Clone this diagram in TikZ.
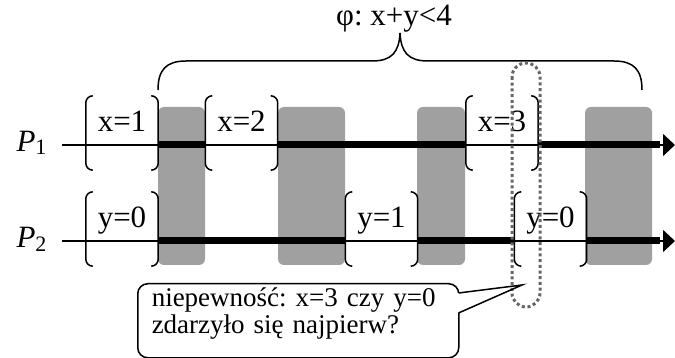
\documentclass[tikz,border=0pt]{standalone}
\usepackage{fontspec}
\setmainfont{Liberation Serif}
\usetikzlibrary{arrows.meta,calc}
\definecolor{slot}{HTML}{A0A0A0}
\definecolor{dots}{HTML}{666666}
\frenchspacing
\tikzset{
  event/.style={inner sep=0pt, minimum width=72pt, text height=36pt, text depth=38pt, anchor=base},
  paren/.style={line width=1.5pt, rounded corners=7pt},
  proc/.style={line width=1.5pt, -{Triangle[length=12pt,width=22pt]}},
  busy/.style={line width=7pt},
}
\begin{document}
\begin{tikzpicture}[x=1pt,y=-1pt,font=\fontsize{31}{36}\selectfont]
\useasboundingbox (0,0) rectangle (675,358);

% shaded slots
\foreach \a/\b in {158/205, 278/345, 417/465, 585/652}
  \fill[slot, rounded corners=6pt] (\a,107) rectangle (\b,265);

% processes
\node[anchor=base west] (p1) at (13,152) {\textit{P}\raisebox{-3pt}{\fontsize{22}{22}\selectfont 1}};
\node[anchor=base west] (p2) at (13,248) {\textit{P}\raisebox{-3pt}{\fontsize{22}{22}\selectfont 2}};
\coordinate (a1) at (62,145); \coordinate (b1) at (675,145);
\coordinate (a2) at (62,241); \coordinate (b2) at (675,241);
\draw[proc] (a1) -- (b1);
\draw[proc] (a2) -- (b2);

% events
\node[event] (x1) at (122,132) {x=1};
\node[event] (x2) at (241.5,132) {x=2};
\node[event] (x3) at (502,132) {x=3};
\node[event] (ya) at (122,228) {y=0};
\node[event] (yb) at (381.5,228) {y=1};
\node[event] (yc) at (550.5,228) {y=0};

\draw[busy] (x1.east |- a1) -- (x2.west |- a1);
\draw[busy] (x2.east |- a1) -- (x3.west |- a1);
\draw[busy] (x3.east |- a1) -- (660,145);
\draw[busy] (ya.east |- a2) -- (yb.west |- a2);
\draw[busy] (yb.east |- a2) -- (yc.west |- a2);
\draw[busy] (yc.east |- a2) -- (660,241);

\foreach \e in {x1,x2,x3,ya,yb,yc} {
  \draw[paren] ([xshift=7pt]\e.north west) -- (\e.north west) -- (\e.south west) -- ([xshift=7pt]\e.south west);
  \draw[paren] ([xshift=-7pt]\e.north east) -- (\e.north east) -- (\e.south east) -- ([xshift=-7pt]\e.south east);
}

% formula brace
\draw[line width=1.5pt] (158,90) .. controls (158,70) and (166,61) .. (186,61) -- (372,61)
  .. controls (392,61) and (399,52) .. (400,33) .. controls (401,52) and (408,61) .. (428,61)
  -- (614,61) .. controls (634,61) and (642,70) .. (642,90);
\node[anchor=base] (phi) at (394,26) {φ: x+y<4};

% concurrent pair
\draw[dots, line width=3pt, dash pattern=on 3pt off 2.7pt, rounded corners=14pt] (512,63) rectangle (540,307);

% remark
\node[draw, line width=1.5pt, fill=white, rounded corners=10pt, anchor=north west, text width=293pt,
  inner xsep=14pt, inner ysep=0pt, align=left, font=\fontsize{27}{27}\selectfont] (note) at (137,283)
  {\rule{0pt}{23pt}niepewność: x=3 czy y=0\\zdarzyło się najpierw?\rule[-24pt]{0pt}{0pt}};
\coordinate (tip) at (522,285);
\fill[white] ($(note.north east)+(-3,10)$) rectangle ($(note.north east)+(2,30)$);
\draw[line width=1.5pt] ($(note.north east)+(-1,10)$) -- (tip) -- ($(note.north east)+(-1,30)$);
\end{tikzpicture}
\end{document}
